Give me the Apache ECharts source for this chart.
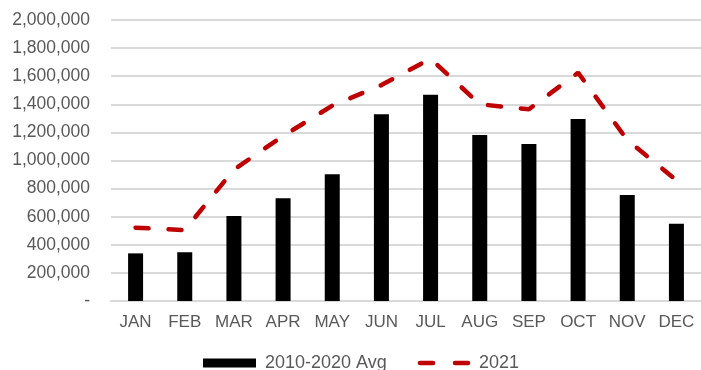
<!DOCTYPE html>
<html>
<head>
<meta charset="utf-8">
<script src="https://cdn.jsdelivr.net/npm/echarts@6/dist/echarts.min.js"></script>
<style>html,body{margin:0;padding:0;background:#fff}#c{width:701px;height:370px}</style>
</head>
<body>
<div id="c"></div>
<script>
var months = ['JAN','FEB','MAR','APR','MAY','JUN','JUL','AUG','SEP','OCT','NOV','DEC'];
var avgName = '2010-2020 Avg';
var avgValues = [339000, 347000, 605000, 731000, 902000, 1329000, 1468000, 1181000, 1117000, 1295000, 754000, 550000];
var lineName = '2021';
var lineValues = [522000, 505000, 935000, 1175000, 1390000, 1537000, 1725000, 1400000, 1365000, 1625000, 1146000, 860000];
var yMin = 0, yMax = 2000000, yStep = 200000;

var chart = echarts.init(document.getElementById('c'));
var font = 'Liberation Sans, Arial, sans-serif';
chart.setOption({
  animation: false,
  grid: {left: 111, right: 0, top: 20, bottom: 69},
  legend: {
    left: 198, top: 349,
    itemWidth: 53, itemHeight: 9, itemGap: 28,
    textStyle: {color: '#595959', fontSize: 18, fontFamily: font, padding: [0, 0, 0, 4]},
    data: [
      {name: avgName, icon: 'rect'},
      {name: lineName, itemStyle: {opacity: 0}, lineStyle: {width: 4.5, type: [13, 22], cap: 'round', dashOffset: -3}}
    ]
  },
  xAxis: {
    type: 'category', data: months,
    axisLine: {show: true, lineStyle: {color: '#d9d9d9', width: 2}},
    axisTick: {show: false},
    axisLabel: {color: '#595959', fontSize: 17, fontFamily: font, margin: 13, interval: 0}
  },
  yAxis: {
    type: 'value', min: yMin, max: yMax, interval: yStep,
    axisLine: {show: false}, axisTick: {show: false},
    splitLine: {lineStyle: {color: '#d9d9d9', width: 2}},
    axisLabel: {
      color: '#595959', fontSize: 17.5, fontFamily: font, margin: 21,
      formatter: function (v) { return v === 0 ? '-' : v.toLocaleString('en-US'); }
    }
  },
  series: [
    {
      name: avgName, type: 'bar', data: avgValues, barWidth: 15,
      itemStyle: {color: '#000000'}
    },
    {
      name: lineName, type: 'line', data: lineValues, symbol: 'none',
      itemStyle: {color: '#c00000'},
      lineStyle: {color: '#c00000', width: 4.5, type: [13, 20], cap: 'round'}
    }
  ]
});
</script>
</body>
</html>
